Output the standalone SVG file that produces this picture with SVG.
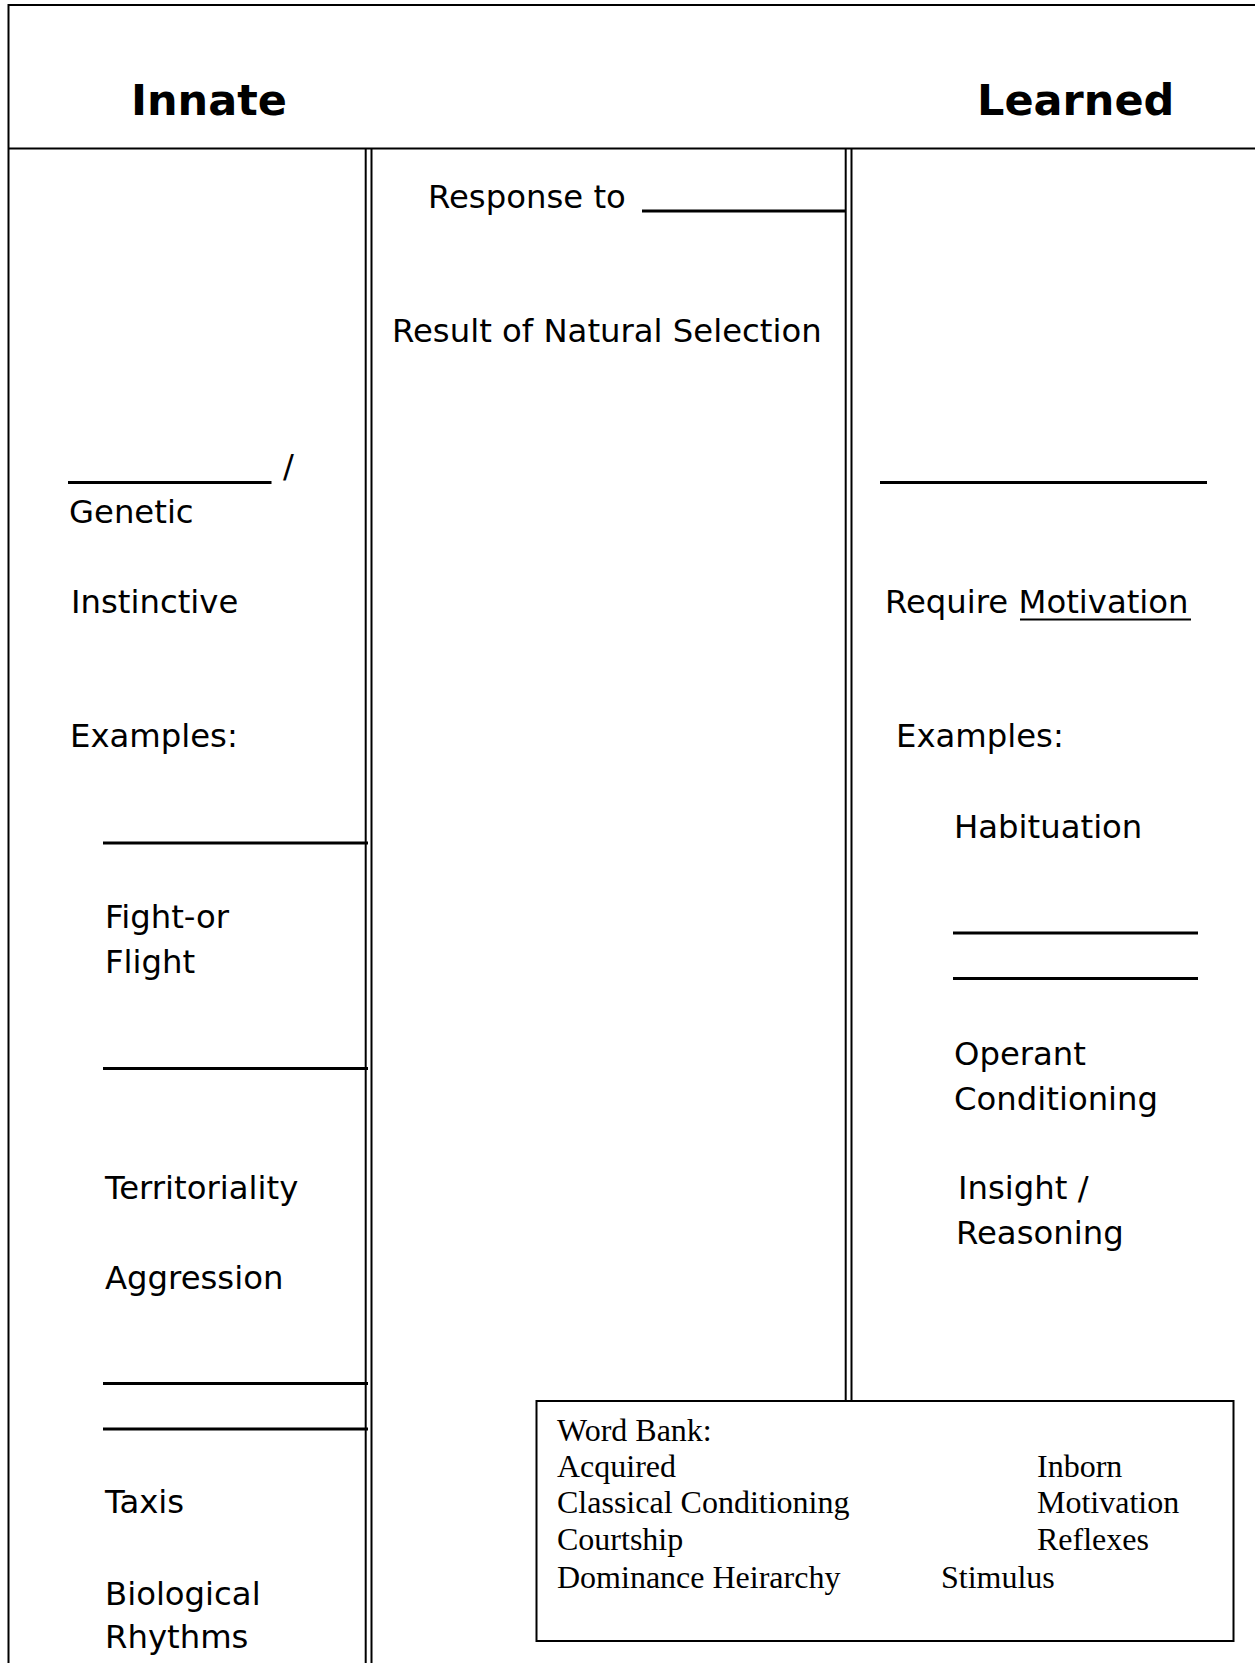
<svg xmlns="http://www.w3.org/2000/svg" width="1255" height="1663" viewBox="0 0 1255 1663">
  <style>
    .frame { stroke: #000; stroke-width: 2; fill: none; }
    .rule { stroke: #000; stroke-width: 2; }
    .blank { stroke: #000; stroke-width: 3; }
    .head { font-family: "DejaVu Sans", "Liberation Sans", sans-serif; font-weight: bold; font-size: 43px; fill: #000; }
    .body { font-family: "DejaVu Sans", "Liberation Sans", sans-serif; font-size: 32.3px; fill: #000; }
    .bank { font-family: "Liberation Serif", "Times New Roman", serif; font-size: 32px; fill: #000; }
  </style>
  <rect width="1255" height="1663" fill="#fff"/>

  <!-- outer frame and header rule -->
  <g id="frame">
    <path class="frame" d="M8.5 1663 V5 H1256"/>
    <line class="rule" x1="8" y1="148.5" x2="1256" y2="148.5"/>
  </g>

  <!-- double column dividers -->
  <g id="dividers">
    <line class="rule" x1="365.7" y1="149" x2="365.7" y2="1663"/>
    <line class="rule" x1="371.5" y1="149" x2="371.5" y2="1663"/>
    <line class="rule" x1="845.7" y1="149" x2="845.7" y2="1401"/>
    <line class="rule" x1="851.5" y1="149" x2="851.5" y2="1401"/>
  </g>

  <!-- column headings -->
  <g id="heading-innate"><text class="head" x="131" y="115">Innate</text></g>
  <g id="heading-learned"><text class="head" x="977" y="115">Learned</text></g>

  <!-- shared traits (centre column) -->
  <g id="center">
    <text class="body" x="428" y="208">Response to</text>
    <line class="blank" x1="642" y1="211" x2="845" y2="211"/>
    <text class="body" x="392" y="342">Result of Natural Selection</text>
  </g>

  <!-- innate column -->
  <g id="innate">
    <line class="blank" x1="68" y1="482.5" x2="271.5" y2="482.5"/>
    <text class="body" x="283" y="477">/</text>
    <text class="body" x="69" y="523">Genetic</text>
    <text class="body" x="71" y="613">Instinctive</text>
    <text class="body" x="70" y="747">Examples:</text>
    <line class="blank" x1="103" y1="843" x2="368" y2="843"/>
    <text class="body" x="105" y="928">Fight-or</text>
    <text class="body" x="105" y="973">Flight</text>
    <line class="blank" x1="103" y1="1068.5" x2="368" y2="1068.5"/>
    <text class="body" x="105" y="1199">Territoriality</text>
    <text class="body" x="105" y="1289">Aggression</text>
    <line class="blank" x1="103" y1="1383.5" x2="368" y2="1383.5"/>
    <line class="blank" x1="103" y1="1429" x2="368" y2="1429"/>
    <text class="body" x="105" y="1513">Taxis</text>
    <text class="body" x="105" y="1605">Biological</text>
    <text class="body" x="105" y="1648">Rhythms</text>
  </g>

  <!-- learned column -->
  <g id="learned">
    <line class="blank" x1="880" y1="482.5" x2="1207" y2="482.5"/>
    <text class="body" x="885" y="613">Require <tspan>Motivation</tspan></text>
    <line class="rule" x1="1020" y1="619.5" x2="1191" y2="619.5"/>
    <text class="body" x="896" y="747">Examples:</text>
    <text class="body" x="954" y="838">Habituation</text>
    <line class="blank" x1="953" y1="933" x2="1198" y2="933"/>
    <line class="blank" x1="953" y1="978.5" x2="1198" y2="978.5"/>
    <text class="body" x="954" y="1065">Operant</text>
    <text class="body" x="954" y="1110">Conditioning</text>
    <text class="body" x="958" y="1199">Insight /</text>
    <text class="body" x="956" y="1244">Reasoning</text>
  </g>

  <!-- word bank -->
  <g id="word-bank">
    <rect class="frame" x="536.5" y="1401" width="697" height="240"/>
    <text class="bank" x="557" y="1441">Word Bank:</text>
    <text class="bank" x="557" y="1477">Acquired</text>
    <text class="bank" x="557" y="1513">Classical Conditioning</text>
    <text class="bank" x="557" y="1550">Courtship</text>
    <text class="bank" x="557" y="1588">Dominance Heirarchy</text>
    <text class="bank" x="1037" y="1477">Inborn</text>
    <text class="bank" x="1037" y="1513">Motivation</text>
    <text class="bank" x="1037" y="1550">Reflexes</text>
    <text class="bank" x="941" y="1588">Stimulus</text>
  </g>
</svg>
